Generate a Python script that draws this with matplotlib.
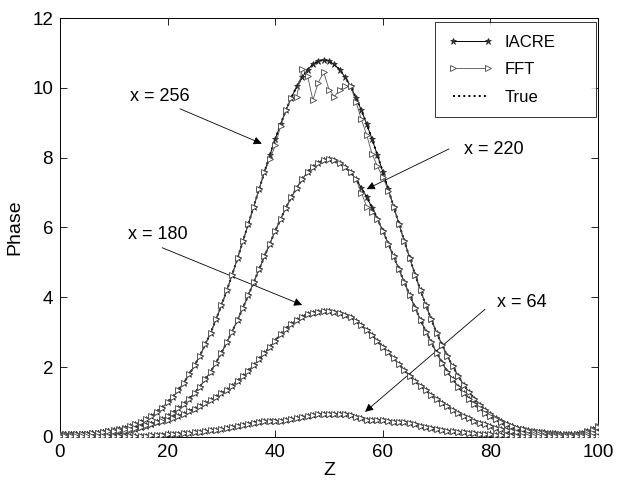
import matplotlib
matplotlib.use("Agg")
import matplotlib.pyplot as plt

plt.rcParams['font.family'] = ['Liberation Sans', 'DejaVu Sans']

# Z grid (sample positions)
z = list(range(0, 101))

# True phase profiles
true_256 = [0.09, 0.09, 0.08, 0.08, 0.09, 0.10, 0.11, 0.12, 0.14, 0.16,
            0.19, 0.22, 0.26, 0.31, 0.36, 0.43, 0.51, 0.61, 0.72, 0.84,
            0.99, 1.15, 1.34, 1.55, 1.79, 2.05, 2.33, 2.65, 2.98, 3.37,
            3.77, 4.20, 4.65, 5.12, 5.61, 6.10, 6.60, 7.10, 7.59, 8.07,
            8.53, 8.96, 9.36, 9.72, 10.04, 10.30, 10.52, 10.67, 10.77, 10.80,
            10.77, 10.67, 10.52, 10.30, 10.04, 9.72, 9.36, 8.96, 8.53, 8.07,
            7.59, 7.10, 6.60, 6.10, 5.61, 5.12, 4.65, 4.20, 3.77, 3.37,
            2.98, 2.64, 2.31, 2.02, 1.75, 1.50, 1.29, 1.10, 0.93, 0.78,
            0.66, 0.55, 0.46, 0.38, 0.32, 0.27, 0.23, 0.20, 0.17, 0.15,
            0.13, 0.12, 0.11, 0.10, 0.09, 0.09, 0.10, 0.12, 0.16, 0.22,
            0.32]

true_220 = [0.08, 0.08, 0.08, 0.08, 0.08, 0.08, 0.09, 0.10, 0.11, 0.12,
            0.14, 0.16, 0.18, 0.21, 0.24, 0.28, 0.32, 0.38, 0.44, 0.51,
            0.60, 0.70, 0.82, 0.95, 1.10, 1.26, 1.44, 1.65, 1.87, 2.13,
            2.41, 2.71, 3.02, 3.35, 3.70, 4.06, 4.43, 4.80, 5.17, 5.54,
            5.90, 6.24, 6.57, 6.87, 7.14, 7.38, 7.58, 7.74, 7.86, 7.93,
            7.95, 7.93, 7.86, 7.74, 7.58, 7.38, 7.14, 6.87, 6.57, 6.24,
            5.90, 5.54, 5.17, 4.80, 4.43, 4.06, 3.70, 3.35, 3.02, 2.71,
            2.41, 2.13, 1.87, 1.65, 1.44, 1.26, 1.10, 0.95, 0.82, 0.70,
            0.60, 0.51, 0.43, 0.37, 0.31, 0.26, 0.22, 0.18, 0.15, 0.13,
            0.11, 0.10, 0.09, 0.08, 0.07, 0.07, 0.08, 0.10, 0.14, 0.19,
            0.28]

true_180 = [0.06, 0.06, 0.07, 0.08, 0.09, 0.10, 0.11, 0.12, 0.14, 0.16,
            0.18, 0.20, 0.22, 0.24, 0.27, 0.30, 0.33, 0.36, 0.42, 0.46,
            0.50, 0.55, 0.61, 0.67, 0.74, 0.81, 0.89, 0.97, 1.06, 1.15,
            1.25, 1.35, 1.47, 1.60, 1.74, 1.89, 2.05, 2.22, 2.40, 2.58,
            2.76, 2.94, 3.10, 3.24, 3.36, 3.45, 3.52, 3.56, 3.59, 3.60,
            3.60, 3.58, 3.55, 3.50, 3.43, 3.33, 3.21, 3.07, 2.92, 2.76,
            2.59, 2.42, 2.25, 2.08, 1.92, 1.76, 1.61, 1.47, 1.34, 1.21,
            1.09, 0.98, 0.88, 0.78, 0.69, 0.61, 0.54, 0.47, 0.41, 0.36,
            0.31, 0.27, 0.23, 0.20, 0.17, 0.14, 0.12, 0.10, 0.09, 0.08,
            0.07, 0.06, 0.05, 0.05, 0.05, 0.05, 0.05, 0.06, 0.08, 0.11,
            0.15]

true_64 = [0.02, 0.02, 0.02, 0.02, 0.02, 0.02, 0.02, 0.02, 0.02, 0.02,
           0.02, 0.02, 0.03, 0.03, 0.03, 0.04, 0.04, 0.05, 0.06, 0.07,
           0.08, 0.09, 0.10, 0.11, 0.12, 0.13, 0.15, 0.17, 0.19, 0.21,
           0.23, 0.26, 0.29, 0.32, 0.35, 0.38, 0.41, 0.44, 0.46, 0.47,
           0.47, 0.47, 0.49, 0.52, 0.55, 0.58, 0.61, 0.64, 0.66, 0.66,
           0.65, 0.65, 0.65, 0.66, 0.63, 0.58, 0.53, 0.50, 0.48, 0.48,
           0.48, 0.46, 0.44, 0.43, 0.43, 0.41, 0.37, 0.32, 0.28, 0.25,
           0.22, 0.20, 0.18, 0.16, 0.14, 0.13, 0.12, 0.11, 0.10, 0.09,
           0.08, 0.07, 0.06, 0.05, 0.04, 0.03, 0.03, 0.02, 0.02, 0.02,
           0.02, 0.02, 0.02, 0.02, 0.02, 0.02, 0.02, 0.02, 0.02, 0.02,
           0.02]

# IACRE reconstruction follows the true profiles
iacre_256 = true_256
iacre_220 = true_220
iacre_180 = true_180
iacre_64 = true_64

# FFT reconstruction (deviates near the x = 256 peak)
fft_256 = [0.09, 0.09, 0.08, 0.08, 0.09, 0.10, 0.11, 0.12, 0.14, 0.16,
           0.19, 0.22, 0.26, 0.31, 0.36, 0.43, 0.51, 0.61, 0.72, 0.84,
           0.99, 1.15, 1.34, 1.55, 1.79, 2.05, 2.33, 2.65, 2.98, 3.37,
           3.77, 4.20, 4.65, 5.12, 5.61, 6.10, 6.60, 7.10, 7.59, 7.95,
           8.35, 8.90, 9.36, 9.72, 9.75, 10.55, 10.35, 9.65, 10.15, 10.45,
           9.95, 9.75, 9.95, 10.05, 10.05, 9.60, 9.10, 8.65, 8.10, 7.75,
           7.45, 7.05, 6.60, 6.10, 5.61, 5.12, 4.65, 4.20, 3.77, 3.37,
           2.98, 2.64, 2.31, 2.02, 1.75, 1.50, 1.29, 1.10, 0.93, 0.78,
           0.66, 0.55, 0.46, 0.38, 0.32, 0.27, 0.23, 0.20, 0.17, 0.15,
           0.13, 0.12, 0.11, 0.10, 0.09, 0.09, 0.10, 0.12, 0.16, 0.22,
           0.32]
fft_220 = [0.08, 0.08, 0.08, 0.08, 0.08, 0.08, 0.09, 0.10, 0.11, 0.12,
           0.14, 0.16, 0.18, 0.21, 0.24, 0.28, 0.32, 0.38, 0.44, 0.51,
           0.60, 0.70, 0.82, 0.95, 1.10, 1.26, 1.44, 1.65, 1.87, 2.13,
           2.41, 2.71, 3.02, 3.35, 3.70, 4.06, 4.43, 4.80, 5.17, 5.54,
           5.90, 6.24, 6.57, 6.87, 7.14, 7.38, 7.58, 7.74, 7.86, 7.93,
           7.95, 7.93, 7.86, 7.74, 7.58, 7.38, 7.00, 6.60, 6.45, 6.24,
           5.90, 5.54, 5.17, 4.80, 4.43, 4.06, 3.70, 3.35, 3.02, 2.71,
           2.41, 2.13, 1.87, 1.65, 1.44, 1.26, 1.10, 0.95, 0.82, 0.70,
           0.60, 0.51, 0.43, 0.37, 0.31, 0.26, 0.22, 0.18, 0.15, 0.13,
           0.11, 0.10, 0.09, 0.08, 0.07, 0.07, 0.08, 0.10, 0.14, 0.19,
           0.28]
fft_180 = true_180
fft_64 = true_64

curve_labels = ["x = 256", "x = 220", "x = 180", "x = 64"]
label_text_pos = [(13.0, 9.74), (75.0, 8.22), (12.6, 5.80), (81.2, 3.86)]
label_arrow_tip = [(37.5, 8.40), (57.0, 7.10), (45.0, 3.78), (56.7, 0.72)]
label_arrow_start = [(22.3, 9.40), (72.3, 8.25), (19.0, 5.42), (79.0, 3.66)]

fig = plt.figure(figsize=(6.23, 4.80), dpi=100)
ax = fig.add_axes([0.0963, 0.0896, 0.8637, 0.8729])

true_sets = [true_256, true_220, true_180, true_64]
iacre_sets = [iacre_256, iacre_220, iacre_180, iacre_64]
fft_sets = [fft_256, fft_220, fft_180, fft_64]

for i in range(4):
    ax.plot(z, true_sets[i], linestyle=':', color='black', lw=1.4,
            label='True' if i == 0 else None, zorder=2)
for i in range(4):
    ax.plot(z, iacre_sets[i], linestyle='-', color='black', lw=0.7,
            marker='*', markersize=5, markeredgewidth=0.5,
            markerfacecolor='#333333', markeredgecolor='#222222',
            label='IACRE' if i == 0 else None, zorder=3)
for i in range(4):
    ax.plot(z, fft_sets[i], linestyle='-', color='#555555', lw=0.6,
            marker='>', markersize=5, markeredgewidth=0.6,
            markerfacecolor='white', markeredgecolor='#444444',
            label='FFT' if i == 0 else None, zorder=4)

for txt, tp, st, tip in zip(curve_labels, label_text_pos, label_arrow_start, label_arrow_tip):
    ax.text(tp[0], tp[1], txt, fontsize=13, ha='left', va='center')
    ax.annotate('', xy=tip, xytext=st,
                arrowprops=dict(arrowstyle='-|>', color='black', lw=0.6,
                                mutation_scale=12, shrinkA=0, shrinkB=0))

ax.set_xlim(0, 100)
ax.set_ylim(0, 12)
ax.set_xticks([0, 20, 40, 60, 80, 100])
ax.set_yticks([0, 2, 4, 6, 8, 10, 12])
ax.tick_params(direction='in', top=True, right=True, length=5, width=0.6,
               labelsize=13.5, pad=5)
for s in ax.spines.values():
    s.set_linewidth(0.7)
ax.set_xlabel('Z', fontsize=14, labelpad=1)
ax.set_ylabel('Phase', fontsize=14, labelpad=6)

handles, labels = ax.get_legend_handles_labels()
order = [labels.index('IACRE'), labels.index('FFT'), labels.index('True')]
leg = ax.legend([handles[k] for k in order], [labels[k] for k in order],
                loc='upper left', bbox_to_anchor=(0.697, 0.99, 0.299, 0.0),
                mode='expand', borderaxespad=0.0,
                numpoints=2, fontsize=12, frameon=True,
                fancybox=False, edgecolor='black', handlelength=2.7,
                handletextpad=0.7, borderpad=0.75, labelspacing=0.75)
leg.get_frame().set_linewidth(0.7)

fig.savefig('out.png', dpi=100)
